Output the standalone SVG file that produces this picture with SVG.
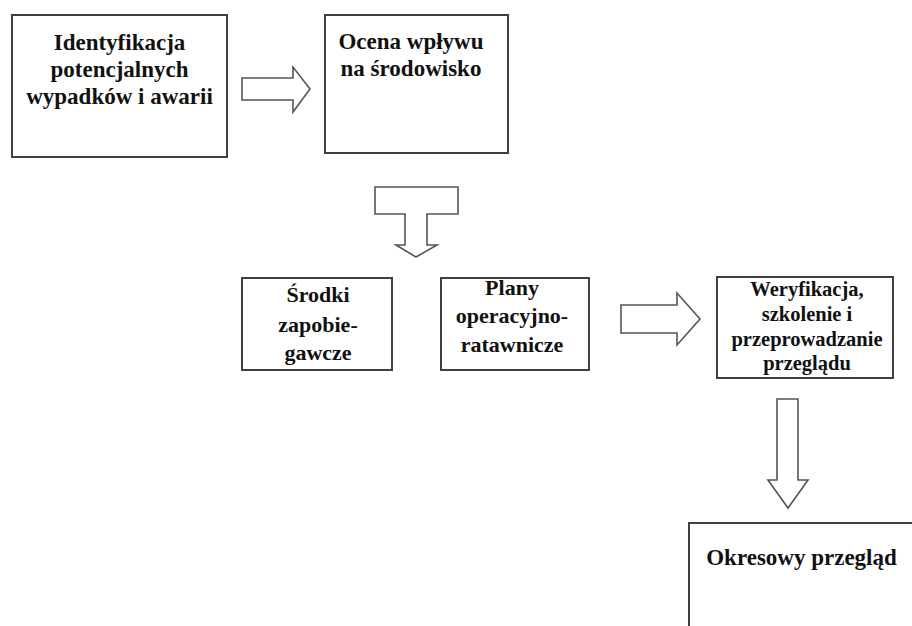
<svg xmlns="http://www.w3.org/2000/svg" width="912" height="626" viewBox="0 0 912 626">
<style>
.box{fill:#fff;stroke:#404040;stroke-width:2}
.arr{fill:#fff;stroke:#555;stroke-width:1.6;stroke-linejoin:miter}
text{font-family:"Liberation Serif","Times New Roman",serif;font-weight:bold;fill:#111;text-anchor:middle}
.t23{font-size:23px}
.t22{font-size:22px}
.t20{font-size:20.5px}
</style>
<rect width="912" height="626" fill="#fff"/>
<g id="connectors">
<polygon class="arr" points="242,78 293,78 293,67 310,89 293,112 293,100 242,100"/>
<polygon class="arr" points="375,187 458,187 458,214 427,214 427,245 437,245 416,257 396,245 405,245 405,214 375,214"/>
<polygon class="arr" points="621,305 677,305 677,293 700,319 677,345 677,333 621,333"/>
<polygon class="arr" points="777,399 798,399 798,480 808,480 788,508 768,480 777,480"/>
</g>
<g id="n1">
<rect class="box" x="12" y="15" width="215" height="142"/>
<text class="t23" x="119.5" y="50">Identyfikacja</text>
<text class="t23" x="119.5" y="77">potencjalnych</text>
<text class="t23" x="119.5" y="104">wypadków i awarii</text>
</g>
<g id="n2">
<rect class="box" x="325" y="15" width="183" height="138"/>
<text class="t23" x="411" y="49">Ocena wpływu</text>
<text class="t23" x="411" y="76">na środowisko</text>
</g>
<g id="n3">
<rect class="box" x="242" y="278" width="150" height="92"/>
<text class="t22" x="318" y="302">Środki</text>
<text class="t22" x="318" y="332">zapobie-</text>
<text class="t22" x="318" y="360">gawcze</text>
</g>
<g id="n4">
<rect class="box" x="441" y="278" width="148" height="92"/>
<text class="t22" x="512" y="295">Plany</text>
<text class="t22" x="512" y="323">operacyjno-</text>
<text class="t22" x="512" y="352">ratawnicze</text>
</g>
<g id="n5">
<rect class="box" x="717" y="277" width="176" height="101"/>
<text class="t20" x="807" y="296">Weryfikacja,</text>
<text class="t20" x="807" y="321">szkolenie i</text>
<text class="t20" x="807" y="346">przeprowadzanie</text>
<text class="t20" x="807" y="370">przeglądu</text>
</g>
<g id="n6">
<rect class="box" x="689" y="523" width="250" height="130"/>
<text class="t23" x="801.5" y="565">Okresowy przegląd</text>
</g>
</svg>
